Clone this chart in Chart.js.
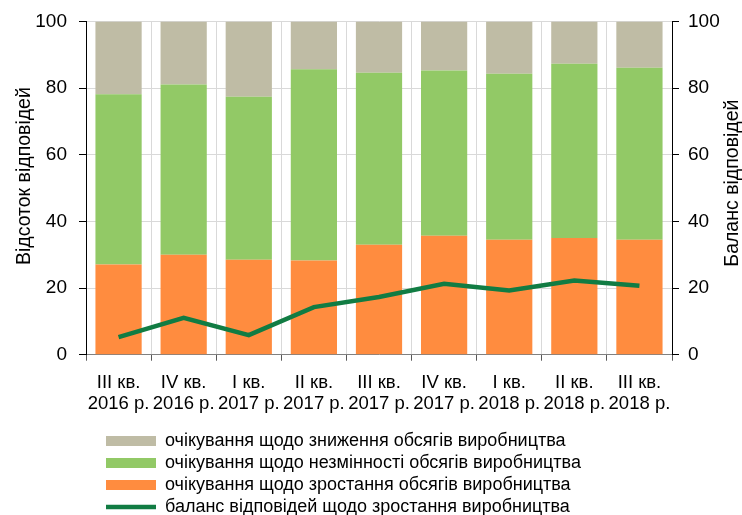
<!DOCTYPE html>
<html>
<head>
<meta charset="utf-8">
<style>
  html, body { margin: 0; padding: 0; background: #fff; }
  #wrap { width: 742px; height: 515px; position: relative; }
</style>
<script src="https://cdn.jsdelivr.net/npm/chart.js@4/dist/chart.umd.min.js"></script>
</head>
<body>
<div id="wrap"><canvas id="chart"></canvas></div>
<script>
// Quarters on the x axis (two-line labels)
const quarters = [
  ['III кв.', '2016 р.'], ['IV кв.', '2016 р.'], ['I кв.', '2017 р.'],
  ['II кв.', '2017 р.'], ['III кв.', '2017 р.'], ['IV кв.', '2017 р.'],
  ['I кв.', '2018 р.'], ['II кв.', '2018 р.'], ['III кв.', '2018 р.'],
];

// Share of respondents, %
const growth    = [27.1, 30.0, 28.5, 28.3, 33.0, 35.7, 34.5, 35.0, 34.5];
const unchanged = [51.1, 51.1, 48.9, 57.4, 51.6, 49.6, 49.8, 52.3, 51.6];
const decline   = [21.8, 18.9, 22.6, 14.3, 15.4, 14.7, 15.7, 12.7, 13.9];
// Balance of responses (right axis)
const balance   = [5.3, 11.1, 5.9, 14.3, 17.3, 21.3, 19.3, 22.3, 20.7];

const seriesNames = [
  'очікування щодо зростання обсягів виробництва',
  'очікування щодо незмінності обсягів виробництва',
  'очікування щодо зниження обсягів виробництва',
  'баланс відповідей щодо зростання виробництва',
];
const leftTitle = 'Відсоток відповідей';
const rightTitle = 'Баланс відповідей';

const colors = {
  orange: '#FF8C3F',
  green: '#92C966',
  grey: '#BFBCA5',
  line: '#117C43',
  grid: '#D9D9D9',
};

const FONT = "'Liberation Sans', Arial, sans-serif";

// legend sits further right/lower than the default layout puts it
const legendShift = {
  id: 'legendShift',
  afterLayout(chart) {
    const l = chart.legend;
    l.left += 102; l.right += 102;
    l.top += 2; l.bottom += 2;
  }
};

// both axis titles read bottom-to-top, so draw them here
const axisTitles = {
  id: 'axisTitles',
  afterDraw(chart) {
    const { ctx, scales } = chart;
    const mid = (scales.y.top + scales.y.bottom) / 2;
    ctx.save();
    ctx.font = '19.5px ' + FONT;
    ctx.fillStyle = '#000';
    ctx.textAlign = 'center';
    ctx.textBaseline = 'middle';
    [[scales.y.left + 25, mid - 12, leftTitle], [scales.y1.right - 9, mid - 5, rightTitle]]
      .forEach(([x, y, t]) => {
        ctx.save();
        ctx.translate(x, y);
        ctx.rotate(-Math.PI / 2);
        ctx.fillText(t, 0, 0);
        ctx.restore();
      });
    ctx.restore();
  }
};

new Chart(document.getElementById('chart'), {
  type: 'bar',
  data: {
    labels: quarters,
    datasets: [
      { label: seriesNames[0], data: growth, backgroundColor: colors.orange, order: 1 },
      { label: seriesNames[1], data: unchanged, backgroundColor: colors.green, order: 1 },
      { label: seriesNames[2], data: decline, backgroundColor: colors.grey, order: 1 },
      {
        type: 'line', label: seriesNames[3], data: balance, yAxisID: 'y1',
        borderColor: colors.line, backgroundColor: colors.line,
        borderWidth: 4.5, pointRadius: 0, tension: 0, order: 0,
      },
    ]
  },
  options: {
    responsive: true,
    maintainAspectRatio: false,
    animation: false,
    layout: { padding: { top: 2, left: 0, right: 0, bottom: -9 } },
    datasets: { bar: { categoryPercentage: 1, barPercentage: 0.71 } },
    plugins: {
      tooltip: { enabled: false },
      legend: {
        position: 'bottom',
        align: 'start',
        labels: {
          color: '#000',
          font: { family: FONT, size: 18 },
          usePointStyle: true,
          pointStyleWidth: 50,
          boxHeight: 10,
          padding: 4,
          generateLabels(chart) {
            const ds = chart.data.datasets;
            return [2, 1, 0, 3].map(i => ({
              text: ds[i].label,
              datasetIndex: i,
              fillStyle: ds[i].backgroundColor,
              strokeStyle: ds[i].type === 'line' ? ds[i].borderColor : ds[i].backgroundColor,
              lineWidth: ds[i].type === 'line' ? 4.5 : 0,
              pointStyle: ds[i].type === 'line' ? 'line' : 'rect',
              fontColor: '#000',
              hidden: false,
            }));
          }
        }
      }
    },
    scales: {
      x: {
        stacked: true,
        grid: { color: colors.grid, tickColor: '#595959', tickLength: 6 },
        border: { color: '#808080', width: 1 },
        ticks: {
          color: '#000', padding: 11, maxRotation: 0, autoSkip: false,
          font: { family: FONT, size: 18.5, lineHeight: 1.17 }
        }
      },
      y: {
        stacked: true, min: 0, max: 100,
        afterFit(scale) { scale.width = 86; },
        grid: { color: colors.grid, tickColor: '#000', tickLength: 7 },
        border: { color: '#000', width: 1 },
        ticks: { stepSize: 20, color: '#000', padding: 12, font: { family: FONT, size: 19, lineHeight: 1 } },
      },
      y1: {
        position: 'right', min: 0, max: 100,
        afterFit(scale) { scale.width = 70; },
        grid: { drawOnChartArea: false, tickColor: '#000', tickLength: 7 },
        border: { color: '#000', width: 1 },
        ticks: { stepSize: 20, color: '#000', padding: 9, font: { family: FONT, size: 19, lineHeight: 1 } },
      }
    }
  },
  plugins: [legendShift, axisTitles]
});
</script>
</body>
</html>
